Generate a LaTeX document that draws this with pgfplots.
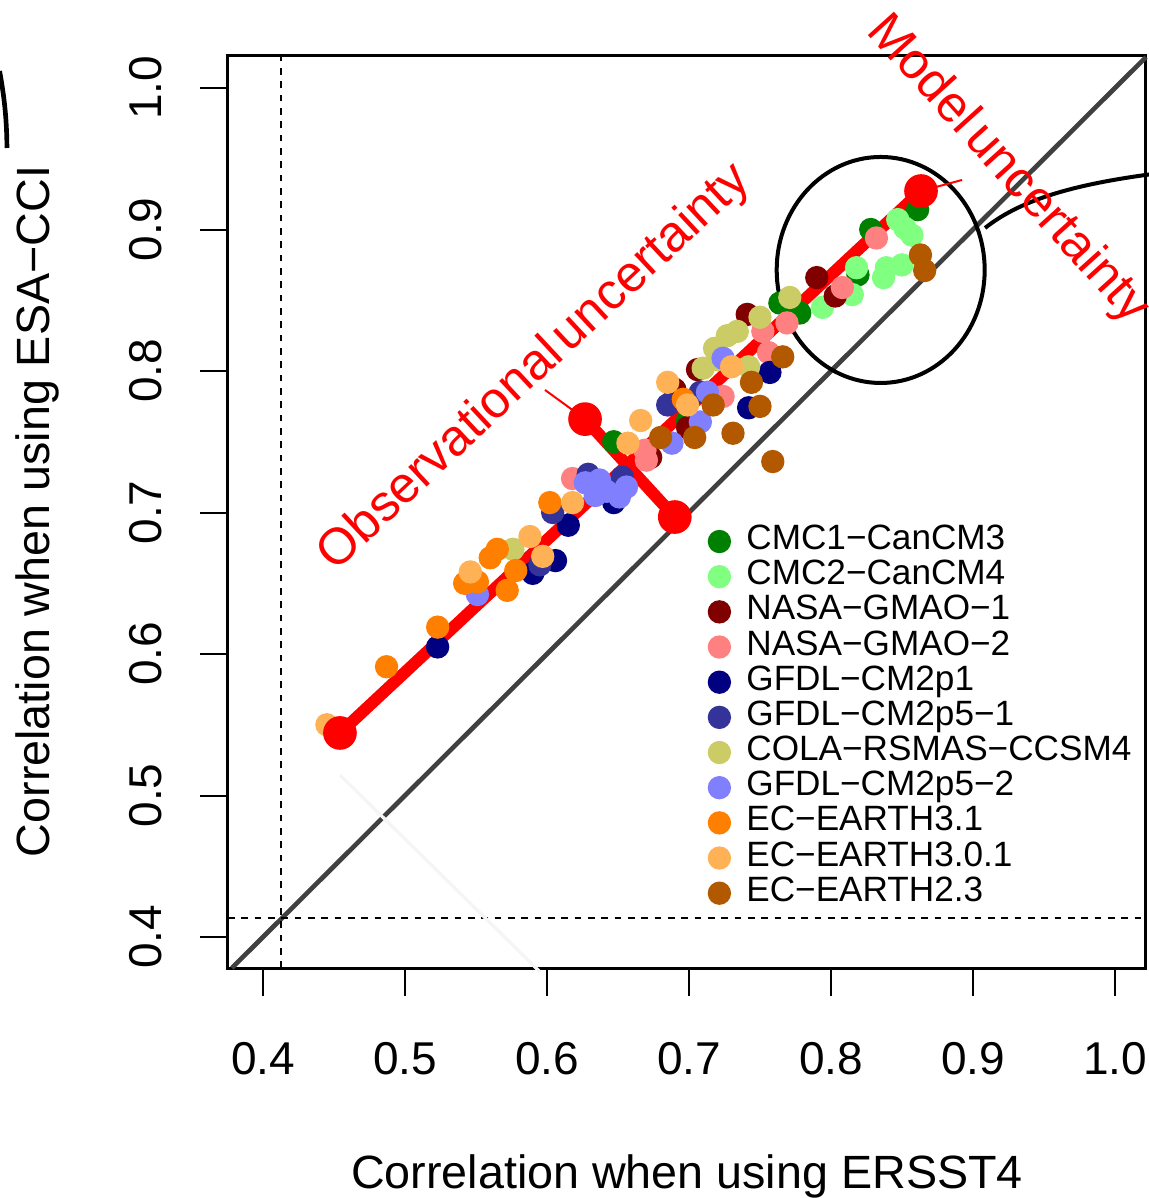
\documentclass[border=0pt]{standalone}
\usepackage{fontspec}
\setmainfont{Liberation Sans}
\usepackage{pgfplots}
\pgfplotsset{compat=1.18}

\definecolor{cmcA}{RGB}{0,128,0}
\definecolor{cmcB}{RGB}{128,255,128}
\definecolor{nasaA}{RGB}{128,0,0}
\definecolor{nasaB}{RGB}{255,128,128}
\definecolor{gfdlA}{RGB}{0,0,128}
\definecolor{gfdlB}{RGB}{51,51,153}
\definecolor{cola}{RGB}{204,204,102}
\definecolor{gfdlC}{RGB}{128,128,255}
\definecolor{ecA}{RGB}{255,128,0}
\definecolor{ecB}{RGB}{255,178,85}
\definecolor{ecC}{RGB}{178,89,0}
\definecolor{diag}{RGB}{64,64,64}

\pgfplotsset{pt/.style={only marks, mark=*, mark size=3.3pt}}

\begin{document}
\begin{tikzpicture}
\begin{axis}[
  scale only axis, width=275.4pt, height=273.9pt,
  xmin=0.37535, xmax=1.02183, ymin=0.37809, ymax=1.02332,
  clip=false,
  axis line style={line width=0.9pt},
  xtick={0.4,0.5,0.6,0.7,0.8,0.9,1.0},
  xticklabels={0.4,0.5,0.6,0.7,0.8,0.9,1.0},
  ytick={0.4,0.5,0.6,0.7,0.8,0.9,1.0},
  yticklabels={0.4,0.5,0.6,0.7,0.8,0.9,1.0},
  xtick pos=left, ytick pos=left,
  tick align=outside, major tick length=8.4pt,
  every tick/.style={black, line width=0.6pt},
  tick label style={font=\fontsize{13.8}{13.8}\selectfont, inner sep=0pt},
  xticklabel style={anchor=north}, xticklabel shift=13.8pt,
  yticklabel style={rotate=90, anchor=south}, yticklabel shift=11.1pt,
  xlabel={Correlation when using ERSST4},
  ylabel={Correlation when using ESA−CCI},
  label style={font=\fontsize{14}{14}\selectfont},
  xlabel style={at={([yshift=-66pt]rel axis cs:0.5,0)}, anchor=base},
  ylabel style={at={([xshift=-53.4pt]rel axis cs:0,0.5)}, anchor=base},
  legend style={at={(0.5226,0.4871)}, anchor=north west, draw=none, fill=none,
    inner sep=0pt, row sep=0pt, column sep=4.8pt,
    font=\fontsize{10.55}{10.55}\selectfont,
    nodes={inner sep=0pt, text height=7.7pt, text depth=2.85pt}},
  legend cell align=left,
]
% reference lines
\addplot[forget plot, no marks, diag, line width=1.4pt] coordinates {(0.37809,0.37809) (1.02183,1.02183)};
\addplot[forget plot, no marks, black, line width=0.6pt, dash pattern=on 2pt off 2pt] coordinates {(0.4127,0.37809) (0.4127,1.02332)};
\addplot[forget plot, no marks, black, line width=0.6pt, dash pattern=on 2pt off 2pt] coordinates {(0.37535,0.4134) (1.02183,0.4134)};

\addplot[pt, cmcA] coordinates {(0.647,0.750) (0.699,0.765) (0.764,0.848) (0.778,0.841) (0.819,0.868) (0.828,0.900) (0.861,0.914)};
\addlegendentry{CMC1−CanCM3}
\addplot[pt, cmcB] coordinates {(0.794,0.845) (0.815,0.854) (0.818,0.873) (0.837,0.866) (0.839,0.873) (0.850,0.875) (0.847,0.907) (0.857,0.896) (0.852,0.901)};
\addlegendentry{CMC2−CanCM4}
\addplot[pt, nasaA] coordinates {(0.673,0.739) (0.690,0.787) (0.706,0.801) (0.699,0.760) (0.741,0.840) (0.790,0.866) (0.803,0.853)};
\addlegendentry{NASA−GMAO−1}
\addplot[pt, nasaB] coordinates {(0.618,0.724) (0.669,0.744) (0.670,0.737) (0.724,0.782) (0.756,0.813) (0.752,0.828) (0.769,0.834) (0.808,0.859) (0.832,0.894)};
\addlegendentry{NASA−GMAO−2}
\addplot[pt, gfdlA] coordinates {(0.523,0.605) (0.590,0.657) (0.606,0.666) (0.615,0.691) (0.647,0.707) (0.742,0.774) (0.757,0.799)};
\addlegendentry{GFDL−CM2p1}
\addplot[pt, gfdlB] coordinates {(0.595,0.663) (0.604,0.700) (0.629,0.727) (0.653,0.725) (0.685,0.776) (0.708,0.785)};
\addlegendentry{GFDL−CM2p5−1}
\addplot[pt, cola] coordinates {(0.576,0.674) (0.710,0.802) (0.718,0.816) (0.727,0.825) (0.734,0.828) (0.742,0.803) (0.750,0.838) (0.771,0.852) (0.720,0.808)};
\addlegendentry{COLA−RSMAS−CCSM4}
\addplot[pt, gfdlC] coordinates {(0.551,0.642) (0.627,0.721) (0.637,0.723) (0.642,0.715) (0.651,0.711) (0.656,0.718) (0.634,0.712) (0.688,0.749) (0.708,0.764) (0.713,0.785) (0.724,0.809)};
\addlegendentry{GFDL−CM2p5−2}
\addplot[pt, ecA] coordinates {(0.487,0.591) (0.523,0.619) (0.542,0.650) (0.551,0.651) (0.565,0.674) (0.560,0.668) (0.578,0.659) (0.572,0.645) (0.602,0.707) (0.696,0.780)};
\addlegendentry{EC−EARTH3.1}
\addplot[pt, ecB] coordinates {(0.445,0.550) (0.546,0.658) (0.588,0.683) (0.597,0.669) (0.618,0.707) (0.657,0.749) (0.666,0.765) (0.685,0.792) (0.699,0.776) (0.730,0.803)};
\addlegendentry{EC−EARTH3.0.1}
\addplot[pt, ecC] coordinates {(0.680,0.753) (0.704,0.753) (0.717,0.776) (0.731,0.756) (0.744,0.792) (0.750,0.775) (0.766,0.810) (0.759,0.736) (0.863,0.882) (0.866,0.871)};
\addlegendentry{EC−EARTH2.3}

% faint artefact line
\draw[gray!8, line width=1pt] (axis cs:0.4542,0.5145) -- (axis cs:0.5951,0.3753);

% uncertainty segments
\addplot[forget plot, red, line width=3.6pt, mark=*, mark size=4.8pt, mark options={solid, line width=0.5pt}] coordinates {(0.4542,0.5442) (0.8634,0.9272)};
\addplot[forget plot, red, line width=3.6pt, mark=*, mark size=4.8pt, mark options={solid, line width=0.5pt}] coordinates {(0.6268,0.7660) (0.6900,0.6968)};

\draw[line width=1.2pt] (axis cs:0.835,0.8714) ellipse [x radius=31.2pt, y radius=33.9pt];
\draw[line width=1.2pt] (axis cs:0.9085,0.9011) .. controls (axis cs:0.935,0.922) and (axis cs:0.975,0.934) .. (axis cs:1.05,0.942);
\draw[line width=1.4pt] (axis cs:0.2145,1.012) .. controls (axis cs:0.2185,0.99) and (axis cs:0.2195,0.975) .. (axis cs:0.2197,0.9576);

\draw[red, line width=0.6pt] (axis cs:0.5986,0.7866) -- (axis cs:0.6268,0.7660);
\draw[red, line width=0.6pt] (axis cs:0.8923,0.9350) -- (axis cs:0.8634,0.9272);
\node[rotate=43, text=red, font=\fontsize{15.3}{15.3}\selectfont] at (axis cs:0.5915,0.8021) {Observational\hspace{0.12em}uncertainty};
\node[rotate=-48, text=red, font=\fontsize{15.3}{15.3}\selectfont] at (axis cs:0.9245,0.9420) {Model\hspace{0.12em}uncertainty};
\end{axis}
\pgfresetboundingbox
\useasboundingbox (-68.4pt,-69pt) rectangle (276.3pt,290.4pt);
\end{tikzpicture}
\end{document}
